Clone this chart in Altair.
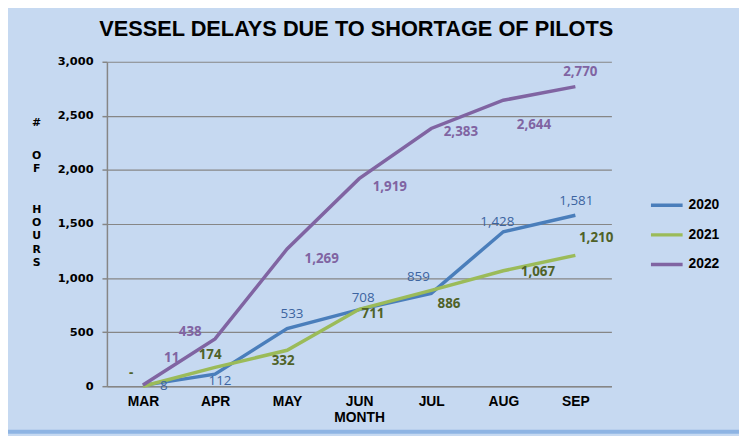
import altair as alt
import pandas as pd

# ---- data ----
MONTHS = ["MAR", "APR", "MAY", "JUN", "JUL", "AUG", "SEP"]
SERIES = ["2020", "2021", "2022"]
Y2020 = [8, 112, 533, 708, 859, 1428, 1581]
Y2021 = [0, 174, 332, 711, 886, 1067, 1210]
Y2022 = [11, 438, 1269, 1919, 2383, 2644, 2770]
Y_TICKS = [0, 500, 1000, 1500, 2000, 2500, 3000]
Y_TITLE_LETTERS = ["#", "O", "F", "H", "O", "U", "R", "S"]

# ---- styling / label placement (pixel nudges from each point) ----
LINE_COLORS = ["#4A7EBB", "#9BBB59", "#8064A2"]
LABEL_STYLE = {
    "2020": ("#3C64A0", "normal"),
    "2021": ("#4F6228", "bold"),
    "2022": ("#8064A2", "bold"),
}
LABEL_NUDGE = {
    "2020": [(21, 1), (5, 7), (5, -15), (4, -12), (-13, -16), (-6, -10), (1, -14)],
    "2021": [(-12, -13), (-5, -12), (-4, 11), (14, 5), (18, 14), (35, 1), (21, -17)],
    "2022": [(29, -27), (-25, -7), (35, 10), (31, 8), (30, 4), (31, 25), (5, -15)],
}
# vertical centre of each stacked letter of the y title, relative to plot top
Y_TITLE_CENTERS = [62, 95, 108, 150, 163, 176, 190, 203]

rows = []
for s, vals in zip(SERIES, [Y2020, Y2021, Y2022]):
    for m, v in zip(MONTHS, vals):
        rows.append({"month": m, "series": s, "value": v})
df = pd.DataFrame(rows)

GRAY = "#868686"

x_enc = alt.X(
    "month:N",
    sort=MONTHS,
    scale=alt.Scale(type="point", padding=0.5),
    axis=alt.Axis(
        title="MONTH",
        labelAngle=0,
        labelFont="Liberation Sans",
        labelFontSize=14,
        labelFontWeight="bold",
        labelColor="black",
        labelPadding=9,
        ticks=False,
        domainColor=GRAY,
        domainWidth=1.5,
        grid=False,
        titleFont="Liberation Sans",
        titleFontSize=14,
        titleFontWeight="bold",
        titleColor="black",
        titlePadding=2,
    ),
)

y_enc = alt.Y(
    "value:Q",
    scale=alt.Scale(domain=[0, 3000], nice=False),
    axis=alt.Axis(
        values=Y_TICKS,
        format=",d",
        title=None,
        labelFont="DejaVu Sans",
        labelFontSize=11.5,
        labelFontWeight="bold",
        labelColor="black",
        labelPadding=9,
        tickSize=5,
        tickColor=GRAY,
        tickWidth=1.5,
        domainColor=GRAY,
        domainWidth=1.5,
        grid=True,
        gridColor=GRAY,
        gridWidth=1.2,
    ),
)

lines = alt.Chart(df).mark_line(strokeWidth=3.5).encode(
    x=x_enc,
    y=y_enc,
    color=alt.Color(
        "series:N",
        scale=alt.Scale(domain=SERIES, range=LINE_COLORS),
        legend=alt.Legend(
            title=None,
            orient="none",
            legendX=548,
            legendY=127,
            symbolType="stroke",
            symbolSize=1024,
            symbolStrokeWidth=3.5,
            labelFont="Liberation Sans",
            labelFontSize=14,
            labelFontWeight="bold",
            labelColor="black",
            labelOffset=4,
            rowPadding=5,
            padding=0,
        ),
    ),
)

label_layers = []
for s in SERIES:
    col, w = LABEL_STYLE[s]
    for i, m in enumerate(MONTHS):
        dx, dy = LABEL_NUDGE[s][i]
        layer = (
            alt.Chart(df)
            .transform_filter((alt.datum.series == s) & (alt.datum.month == m))
            .transform_calculate(lbl="datum.value == 0 ? '-' : format(datum.value, ',d')")
            .mark_text(font="Open Sans", fontSize=13.5, fontWeight=w, color=col, dx=dx, dy=dy)
            .encode(x=x_enc, y=y_enc, text="lbl:N")
        )
        label_layers.append(layer)

one = pd.DataFrame({"k": [0]})

# vertical stacked y-axis title ("# OF HOURS"), one letter per line
title_layers = []
for letter, cy in zip(Y_TITLE_LETTERS, Y_TITLE_CENTERS):
    title_layers.append(
        alt.Chart(one)
        .mark_text(
            font="DejaVu Sans",
            fontSize=11,
            fontWeight="bold",
            color="black",
            align="center",
            baseline="middle",
        )
        .encode(x=alt.value(-71), y=alt.value(cy), text=alt.value(letter))
    )

# darker frame band along the bottom edge of the chart area
band = (
    alt.Chart(one)
    .mark_rect(color="#8EB4E3", clip=False)
    .encode(x=alt.value(-100), x2=alt.value(639), y=alt.value(372), y2=alt.value(376))
)

chart = (
    alt.layer(band, lines, *label_layers, *title_layers)
    .properties(
        width=510,
        height=328,
        autosize=alt.AutoSizeParams(type="none"),
        padding={"left": 100, "top": 52, "right": 129, "bottom": 48},
        background="#C6D9F1",
        title=alt.Title(
            "VESSEL DELAYS DUE TO SHORTAGE OF PILOTS",
            font="Liberation Sans",
            fontSize=22,
            fontWeight="bold",
            color="black",
            anchor="middle",
            frame="group",
            offset=15,
            dx=-3,
        ),
    )
    .configure_view(stroke=None)
)

chart.save("out.html", embed_options={"renderer": "svg", "actions": False})
